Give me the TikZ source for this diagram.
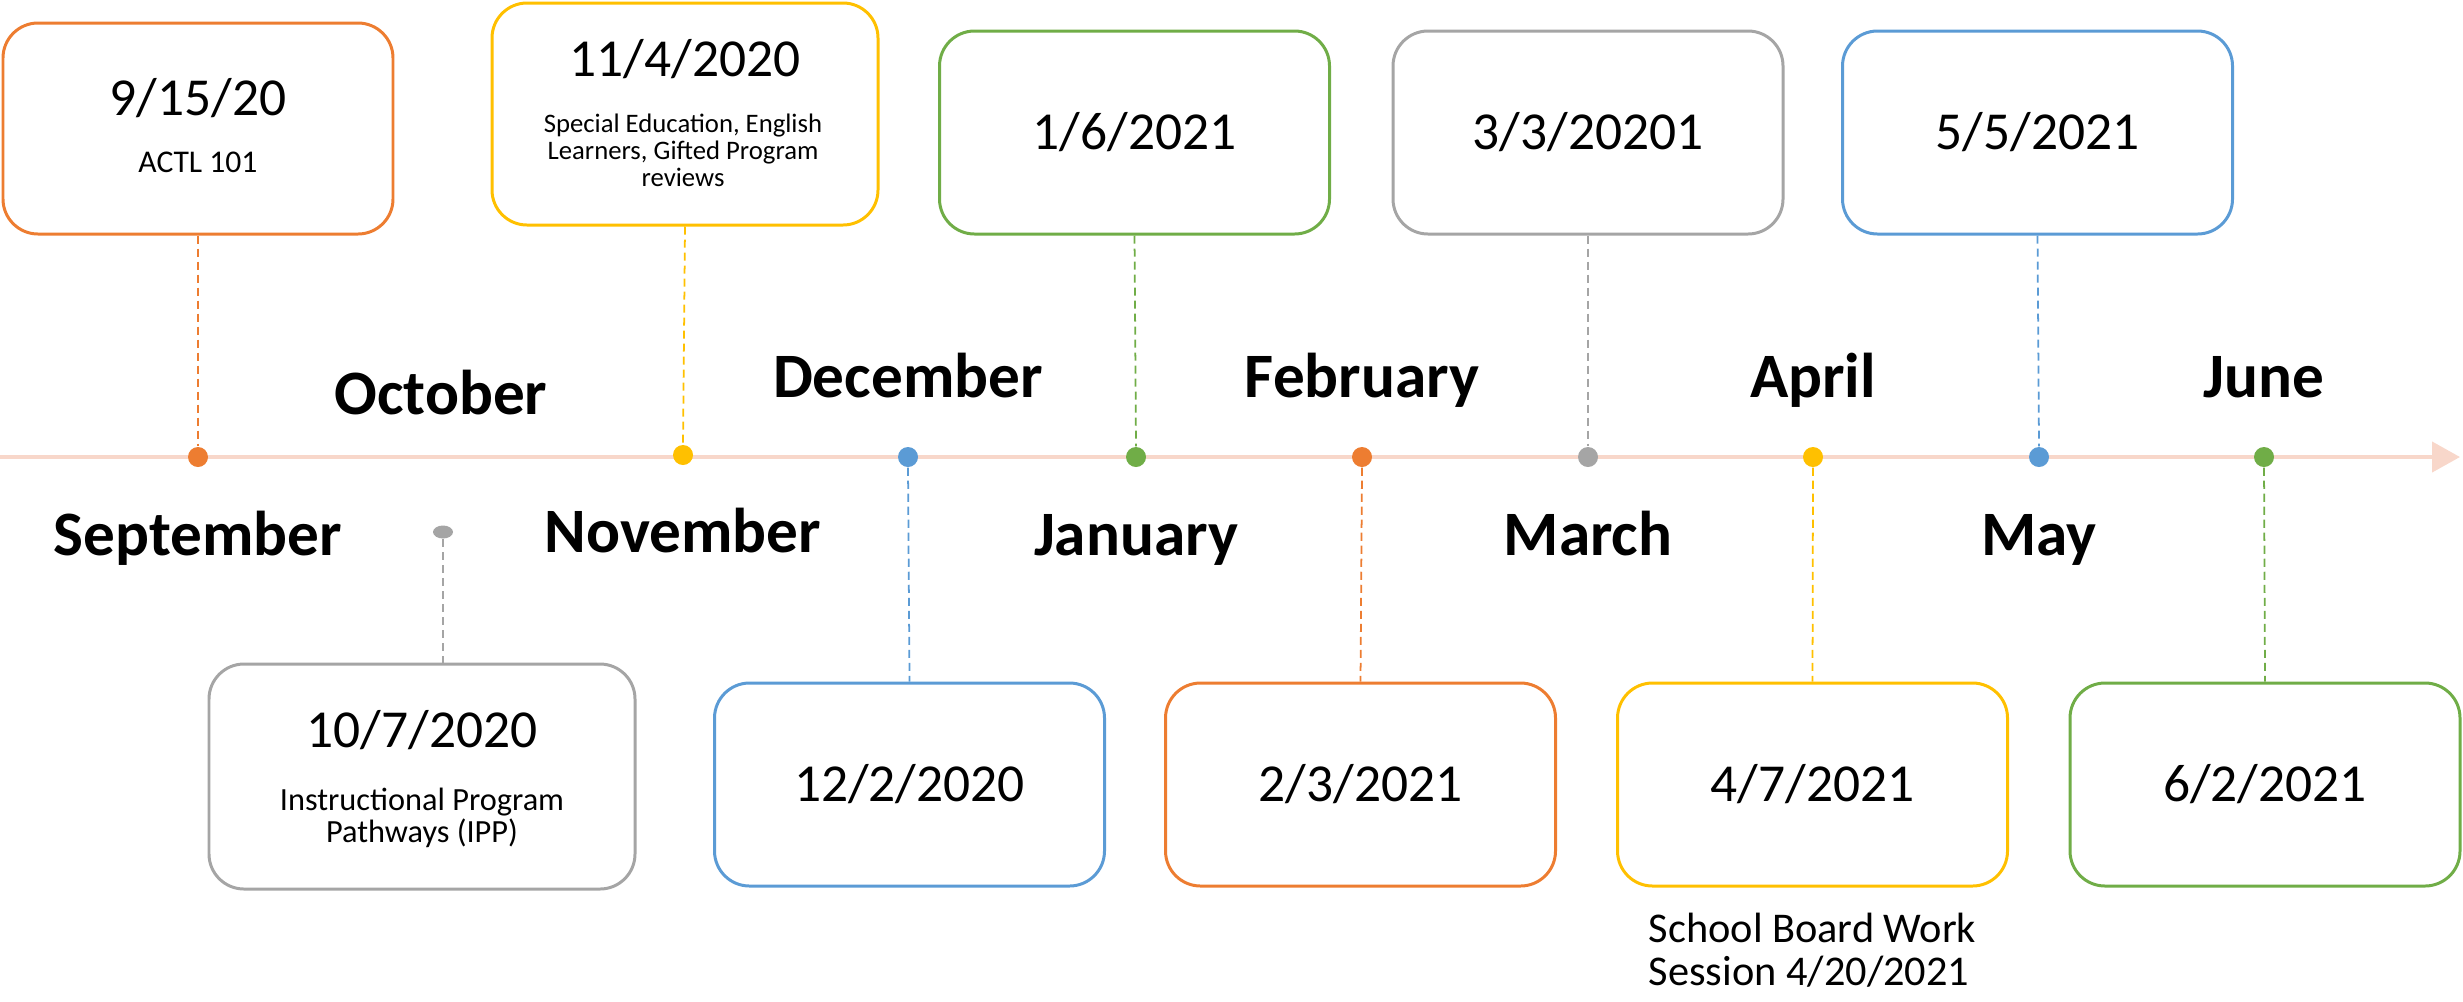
\documentclass[tikz,border=0pt]{standalone}
\usepackage{fontspec}
\setmainfont{Carlito}
\usetikzlibrary{arrows.meta}
\usetikzlibrary{positioning}
\usetikzlibrary{shapes.geometric}

\definecolor{tlorange}{HTML}{ED7D31}
\definecolor{tlgold}{HTML}{FFC000}
\definecolor{tlblue}{HTML}{5B9BD5}
\definecolor{tlgreen}{HTML}{70AD47}
\definecolor{tlgray}{HTML}{A5A5A5}
\definecolor{tlaxis}{HTML}{F8D7CA}

\begin{document}
\begin{tikzpicture}[
    datebox/.style={draw, fill=white, rounded corners=0.35cm, line width=0.85pt,
        minimum width=3.9cm, minimum height=2.03cm, inner sep=0pt,
        font=\fontsize{15.2}{18}\selectfont},
    bigdate/.style={font=\fontsize{15.2}{18}\selectfont, inner sep=0pt},
    smallnote/.style={font=\fontsize{8.4}{8}\selectfont, align=center, inner sep=0pt},
    month/.style={font=\fontsize{18}{21}\selectfont\bfseries, anchor=base, inner sep=0pt},
    tickdot/.style={circle, fill, minimum size=0.2cm, inner sep=0pt},
    stem/.style={dash pattern=on 2.3pt off 1.4pt, line width=0.5pt}
]
\useasboundingbox (0,0) rectangle (24.63,-10.01);

\coordinate (axisstart) at (0,-4.57);
\coordinate (axisend) at (24.6,-4.57);
\draw[tlaxis, line width=1.2pt, -{Triangle[width=3mm, length=2.8mm]}] (axisstart) -- (axisend);

\node[tickdot, tlorange] (dsep) at (1.98,-4.57) {};
\node[tickdot, tlgold] (dnov) at (6.83,-4.55) {};
\node[tickdot, tlblue] (ddec) at (9.08,-4.57) {};
\node[tickdot, tlgreen] (djan) at (11.36,-4.57) {};
\node[tickdot, tlorange] (dfeb) at (13.62,-4.57) {};
\node[tickdot, tlgray] (dmar) at (15.88,-4.57) {};
\node[tickdot, tlgold] (dapr) at (18.13,-4.57) {};
\node[tickdot, tlblue] (dmay) at (20.39,-4.57) {};
\node[tickdot, tlgreen] (djun) at (22.64,-4.57) {};
\node[ellipse, fill=tlgray, minimum width=0.2cm, minimum height=0.13cm, inner sep=0pt] (doct) at (4.43,-5.32) {};

\node[datebox, draw=tlorange, minimum height=2.11cm] (b0915) at (1.98,-1.285) {};
\node[bigdate] (t0915) at (1.98,-0.985) {9/15/20};
\node[smallnote, font=\fontsize{9}{9}\selectfont] (n0915) at (1.98,-1.62) {ACTL 101};

\node[datebox, draw=tlgold, minimum width=3.86cm, minimum height=2.22cm] (b1104) at (6.85,-1.14) {};
\node[bigdate] (t1104) at (6.85,-0.59) {11/4/2020};
\node[smallnote, font=\fontsize{7.6}{7.7}\selectfont] (n1104) at (6.83,-1.505) {Special Education, English\\Learners, Gifted Program\\reviews};

\node[datebox, draw=tlgray, minimum width=4.26cm, minimum height=2.25cm] (b1007) at (4.22,-7.765) {};
\node[bigdate] (t1007) at (4.22,-7.30) {10/7/2020};
\node[smallnote, font=\fontsize{9.2}{9.1}\selectfont] (n1007) at (4.22,-8.18) {Instructional Program\\Pathways (IPP)};

\node[datebox, draw=tlgreen] (b0106) at (11.345,-1.325) {1/6/2021};
\node[datebox, draw=tlgray] (b0303) at (15.88,-1.325) {3/3/20201};
\node[datebox, draw=tlblue] (b0505) at (20.375,-1.325) {5/5/2021};
\node[datebox, draw=tlblue] (b1202) at (9.095,-7.845) {12/2/2020};
\node[datebox, draw=tlorange] (b0203) at (13.605,-7.845) {2/3/2021};
\node[datebox, draw=tlgold] (b0407) at (18.125,-7.845) {4/7/2021};
\node[datebox, draw=tlgreen] (b0602) at (22.65,-7.845) {6/2/2021};

\node[font=\fontsize{12.05}{12.2}\selectfont, align=left, inner sep=0pt, below=0.25cm of b0407] (board) {School Board Work\\Session 4/20/2021};

\node[month] (msep) at (1.98,-5.55) {September};
\node[month] (moct) at (4.41,-4.14) {October};
\node[month] (mnov) at (6.83,-5.52) {November};
\node[month] (mdec) at (9.08,-3.97) {December};
\node[month] (mjan) at (11.36,-5.55) {January};
\node[month] (mfeb) at (13.62,-3.97) {February};
\node[month] (mmar) at (15.88,-5.55) {March};
\node[month] (mapr) at (18.13,-3.97) {April};
\node[month] (mmay) at (20.39,-5.55) {May};
\node[month] (mjun) at (22.64,-3.97) {June};

\draw[stem, tlorange] (b0915.south) -- (dsep.north);
\draw[stem, tlgold] (b1104.south) -- (dnov.north);
\draw[stem, tlgray] (doct.south) -- (doct |- b1007.north);
\draw[stem, tlblue] (ddec.south) -- (b1202.north);
\draw[stem, tlgreen] (b0106.south) -- (djan.north);
\draw[stem, tlorange] (dfeb.south) -- (b0203.north);
\draw[stem, tlgray] (b0303.south) -- (dmar.north);
\draw[stem, tlgold] (dapr.south) -- (b0407.north);
\draw[stem, tlblue] (b0505.south) -- (dmay.north);
\draw[stem, tlgreen] (djun.south) -- (b0602.north);
\end{tikzpicture}
\end{document}
